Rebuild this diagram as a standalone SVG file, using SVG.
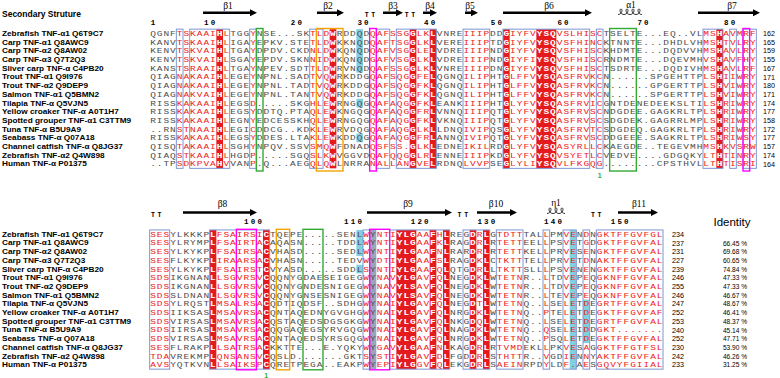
<svg xmlns="http://www.w3.org/2000/svg" width="780" height="378" viewBox="0 0 780 378">
<style>
.nm{font-family:"Liberation Sans",Arial,sans-serif;font-weight:bold;font-size:7.5px;fill:#000}
.s{font-family:"Liberation Mono",monospace;font-size:7.6px;letter-spacing:0.7726px;fill:#4d4d4d}
.r{fill:#ee1c1c}
.w{fill:#fff;font-weight:bold}
.num{font-family:"Liberation Sans",Arial,sans-serif;font-size:7.2px;fill:#000}
.pc{font-family:"Liberation Sans",Arial,sans-serif;font-size:6.6px;fill:#000;text-anchor:middle}
.rul{font-family:"Liberation Mono",monospace;font-size:7.5px;font-weight:bold;letter-spacing:2.167px;fill:#000}
.tt{font-family:"Liberation Mono",monospace;font-size:6.5px;font-weight:bold;letter-spacing:2.767px;fill:#000}
.lab{font-family:"Liberation Serif","Times New Roman",serif;font-size:9.5px;fill:#000;text-anchor:middle}
.fr{fill:none;stroke:#7d97d4;stroke-width:1}
.red{fill:#e41a1c}
.cy{fill:#80d0e2}
.sl{fill:#9aa4bc}
.mg{fill:none;stroke:#ff00ff;stroke-width:1.4}
.or{fill:none;stroke:#f5a300;stroke-width:1.4}
.gr{fill:none;stroke:#33aa33;stroke-width:1.4}
.arr{fill:#000}
.hx{fill:none;stroke:#000;stroke-width:0.8}
.one{font-family:"Liberation Sans",Arial,sans-serif;font-weight:bold;font-size:7px;fill:#33aa33;text-anchor:middle}
</style>
<rect width="780" height="378" fill="#fff"/>
<text x="2" y="16.5" font-family="Liberation Sans, Arial, sans-serif" font-weight="bold" font-size="8.5">Secondary Struture</text>

<g id="top-bg">
<rect class="red" x="216.34" y="29.15" width="6.67" height="139.2"/>
<rect class="red" x="329.67" y="29.15" width="6.67" height="139.2"/>
<rect class="red" x="409.67" y="29.15" width="6.67" height="139.2"/>
<rect class="red" x="429.67" y="29.15" width="6.67" height="139.2"/>
<rect class="red" x="503" y="29.15" width="6.67" height="139.2"/>
<rect class="red" x="536.34" y="29.15" width="20" height="139.2"/>
<rect class="red" x="716.34" y="29.15" width="6.67" height="139.2"/>
<rect class="cy" x="356.34" y="29.15" width="6.67" height="43.5"/>
<rect class="cy" x="356.34" y="98.75" width="6.67" height="8.7"/>
<rect class="cy" x="356.34" y="133.55" width="6.67" height="8.7"/>
</g>
<g id="top-frames">
<rect class="fr" x="176.34" y="29.15" width="6.67" height="139.2"/>
<rect class="fr" x="189.67" y="29.15" width="40" height="139.2"/>
<rect class="fr" x="249.67" y="29.15" width="6.67" height="139.2"/>
<rect class="fr" x="309.67" y="29.15" width="13.33" height="139.2"/>
<rect class="fr" x="376.34" y="29.15" width="13.33" height="139.2"/>
<rect class="fr" x="396.34" y="29.15" width="40" height="139.2"/>
<rect class="fr" x="463" y="29.15" width="26.67" height="139.2"/>
<rect class="fr" x="503" y="29.15" width="86.67" height="139.2"/>
<rect class="fr" x="596.34" y="29.15" width="6.67" height="139.2"/>
<rect class="fr" x="703" y="29.15" width="20" height="139.2"/>
<rect class="fr" x="729.67" y="29.15" width="6.67" height="139.2"/>
<rect class="fr" x="743" y="29.15" width="13.33" height="139.2"/>
<rect class="gr" x="256.34" y="28.5" width="6.67" height="142.5"/>
<rect class="or" x="316.34" y="28.5" width="26.67" height="142.5"/>
<rect class="mg" x="369.67" y="28.5" width="6.67" height="142.5"/>
<rect class="gr" x="609.67" y="28.5" width="26.67" height="142.5"/>
<rect class="mg" x="743" y="28.5" width="6.67" height="142.5"/>
</g>

<g id="top-ss">
<text class="lab" x="228" y="8.5">β1</text>
<path class="arr" d="M203 11.5H250V9.2L257 12.7L250 16.2V13.9H203Z"/>
<text class="lab" x="328" y="8.5">β2</text>
<path class="arr" d="M317 11.5H337V9.2L344 12.7L337 16.2V13.9H317Z"/>
<text class="tt" x="364.7" y="16.5">TT</text>
<text class="lab" x="393" y="8.5">β3</text>
<path class="arr" d="M383 11.5H396V9.2L403 12.7L396 16.2V13.9H383Z"/>
<text class="tt" x="404.7" y="16.5">TT</text>
<text class="lab" x="430" y="8.5">β4</text>
<path class="arr" d="M423 11.5H430V9.2L437 12.7L430 16.2V13.9H423Z"/>
<text class="lab" x="470" y="8.5">β5</text>
<path class="arr" d="M465 11.5H471V9.2L478 12.7L471 16.2V13.9H465Z"/>
<text class="lab" x="549" y="8.5">β6</text>
<path class="arr" d="M503 11.5H585V9.2L592 12.7L585 16.2V13.9H503Z"/>
<text class="lab" x="631" y="8">α1</text>
<path class="hx" d="M618 14.5C622 14.5 623 9 621 9C619 9 620 14.5 624 14.5C628 14.5 629 9 627 9C625 9 626 14.5 630 14.5C634 14.5 635 9 633 9C631 9 632 14.5 636 14.5C640 14.5 641 9 639 9C637 9 638 14.5 642 14.5"/>
<text class="lab" x="732" y="8.5">β7</text>
<path class="arr" d="M698 11.5H753V9.2L760 12.7L753 16.2V13.9H698Z"/>
</g>
<g id="top-ruler">
<text class="rul" x="150.75" y="25">1</text>
<text class="rul" x="204.1" y="25">10</text>
<text class="rul" x="290.75" y="25">20</text>
<text class="rul" x="357.4" y="25">30</text>
<text class="rul" x="424.1" y="25">40</text>
<text class="rul" x="490.75" y="25">50</text>
<text class="rul" x="557.4" y="25">60</text>
<text class="rul" x="637.4" y="25">70</text>
<text class="rul" x="724.1" y="25">80</text>
</g>

<g id="top-names" transform="scale(1.1,1)">
<text class="nm" x="1.82" y="36">Zebrafish TNF-α1 Q6T9C7</text>
<text class="nm" x="1.82" y="44.7">Carp TNF-α1 Q8AWC9</text>
<text class="nm" x="1.82" y="53.4">Carp TNF-α2 Q8AW02</text>
<text class="nm" x="1.82" y="62.1">Carp TNF-α3 Q7T2Q3</text>
<text class="nm" x="1.82" y="70.8">Sliver carp TNF-α C4PB20</text>
<text class="nm" x="1.82" y="79.5">Trout TNF-α1 Q9I976</text>
<text class="nm" x="1.82" y="88.2">Trout TNF-α2 Q9DEP9</text>
<text class="nm" x="1.82" y="96.9">Salmon TNF-α1 Q5BMN2</text>
<text class="nm" x="1.82" y="105.6">Tilapia TNF-α Q5VJN5</text>
<text class="nm" x="1.82" y="114.3">Yellow croaker TNF-α A0T1H7</text>
<text class="nm" x="1.82" y="123">Spotted grouper TNF-α1 C3TTM9</text>
<text class="nm" x="1.82" y="131.7">Tuna TNF-α B5U9A9</text>
<text class="nm" x="1.82" y="140.4">Seabass TNF-α Q07A18</text>
<text class="nm" x="1.82" y="149.1">Channel catfish TNF-α Q8JG37</text>
<text class="nm" x="1.82" y="157.8">Zebrafish TNF-α2 Q4W898</text>
<text class="nm" x="1.82" y="166.5">Human TNF-α P01375</text>
</g>

<g id="top-seq" transform="scale(1.25,1)">
<text class="s" x="120.12" y="36">QGNF<tspan class="r">TSKAAI</tspan><tspan class="w">H</tspan><tspan class="r">L</tspan>TGG<tspan class="r">Y</tspan>NSE...SK<tspan class="r">TLD</tspan><tspan class="w">W</tspan>RDDQD<tspan class="r">QAFSSG</tspan><tspan class="w">G</tspan><tspan class="r">LK</tspan><tspan class="w">L</tspan>VNRE<tspan class="r">IIIP</tspan>DD<tspan class="w">G</tspan><tspan class="r">IYFV</tspan><tspan class="w">YSQ</tspan><tspan class="r">VSLHISC</tspan>TSELTE...EQ..VL<tspan class="r">MS</tspan><tspan class="w">H</tspan><tspan class="r">AVMRF</tspan></text>
<text class="s" x="120.12" y="44.7">KANV<tspan class="r">TSKAAI</tspan><tspan class="w">H</tspan><tspan class="r">L</tspan>IGA<tspan class="r">Y</tspan>EPKV.STE<tspan class="r">TLD</tspan><tspan class="w">W</tspan>KKNQD<tspan class="r">QAFTSG</tspan><tspan class="w">G</tspan><tspan class="r">LK</tspan><tspan class="w">L</tspan>VERE<tspan class="r">IIIP</tspan>TD<tspan class="w">G</tspan><tspan class="r">IYFV</tspan><tspan class="w">YSQ</tspan><tspan class="r">VSFHINC</tspan>KTNNTE...DHDLVH<tspan class="r">MS</tspan><tspan class="w">H</tspan><tspan class="r">TVLRY</tspan></text>
<text class="s" x="120.12" y="53.4">KENV<tspan class="r">TSKVAI</tspan><tspan class="w">H</tspan><tspan class="r">L</tspan>TGA<tspan class="r">Y</tspan>DPDV.CKD<tspan class="r">NLD</tspan><tspan class="w">W</tspan>KQNQD<tspan class="r">QAFVSG</tspan><tspan class="w">G</tspan><tspan class="r">LE</tspan><tspan class="w">L</tspan>VDRE<tspan class="r">IIIP</tspan>ND<tspan class="w">G</tspan><tspan class="r">IYFV</tspan><tspan class="w">YSQ</tspan><tspan class="r">VSFHISC</tspan>KHDMTE...DQDVVH<tspan class="r">MS</tspan><tspan class="w">H</tspan><tspan class="r">AVLRY</tspan></text>
<text class="s" x="120.12" y="62.1">KENV<tspan class="r">TSKVAI</tspan><tspan class="w">H</tspan><tspan class="r">L</tspan>SGA<tspan class="r">Y</tspan>EPDV.SKN<tspan class="r">NID</tspan><tspan class="w">W</tspan>KQNQD<tspan class="r">GAFVSG</tspan><tspan class="w">G</tspan><tspan class="r">LK</tspan><tspan class="w">L</tspan>VDRE<tspan class="r">IIIP</tspan>ND<tspan class="w">G</tspan><tspan class="r">IYFI</tspan><tspan class="w">YSQ</tspan><tspan class="r">VSFHISC</tspan>RNDMTE...DQEVMH<tspan class="r">VS</tspan><tspan class="w">H</tspan><tspan class="r">AVFHY</tspan></text>
<text class="s" x="120.12" y="70.8">KANS<tspan class="r">TSRAAI</tspan><tspan class="w">H</tspan><tspan class="r">L</tspan>TGA<tspan class="r">Y</tspan>NPEV.SDT<tspan class="r">TLD</tspan><tspan class="w">W</tspan>RVNQD<tspan class="r">QAFSSG</tspan><tspan class="w">G</tspan><tspan class="r">LK</tspan><tspan class="w">L</tspan>VNRE<tspan class="r">IIIP</tspan>DN<tspan class="w">G</tspan><tspan class="r">IYFV</tspan><tspan class="w">YSQ</tspan><tspan class="r">VSFHISC</tspan>TSDRTE...DQDIVH<tspan class="r">MS</tspan><tspan class="w">H</tspan><tspan class="r">AVLRF</tspan></text>
<text class="s" x="120.12" y="79.5">QIAG<tspan class="r">NAKAAI</tspan><tspan class="w">H</tspan><tspan class="r">L</tspan>EGE<tspan class="r">Y</tspan>NPNL.SAD<tspan class="r">TVQ</tspan><tspan class="w">W</tspan>RKDDG<tspan class="r">QAFSQG</tspan><tspan class="w">G</tspan><tspan class="r">FE</tspan><tspan class="w">L</tspan>QGNQ<tspan class="r">ILIP</tspan>HT<tspan class="w">G</tspan><tspan class="r">LFFV</tspan><tspan class="w">YSQ</tspan><tspan class="r">ASFRVKC</tspan>N......SPGEHTTP<tspan class="r">LS</tspan><tspan class="w">H</tspan><tspan class="r">IIWRY</tspan></text>
<text class="s" x="120.12" y="88.2">QIAG<tspan class="r">NAKAAI</tspan><tspan class="w">H</tspan><tspan class="r">L</tspan>EGE<tspan class="r">Y</tspan>NPNL.TAD<tspan class="r">TVQ</tspan><tspan class="w">W</tspan>RKDDG<tspan class="r">QAFSQG</tspan><tspan class="w">G</tspan><tspan class="r">FK</tspan><tspan class="w">L</tspan>QGNQ<tspan class="r">ILIP</tspan>HT<tspan class="w">G</tspan><tspan class="r">LFFV</tspan><tspan class="w">YSQ</tspan><tspan class="r">ASFRVKC</tspan>N......GPGERTTP<tspan class="r">LS</tspan><tspan class="w">H</tspan><tspan class="r">VIWRY</tspan></text>
<text class="s" x="120.12" y="96.9">QIAG<tspan class="r">NAKVAI</tspan><tspan class="w">H</tspan><tspan class="r">L</tspan>EGE<tspan class="r">Y</tspan>NPNL.TAN<tspan class="r">TVQ</tspan><tspan class="w">W</tspan>RKDDG<tspan class="r">QAFSQG</tspan><tspan class="w">G</tspan><tspan class="r">FK</tspan><tspan class="w">L</tspan>QGNQ<tspan class="r">ILIP</tspan>HT<tspan class="w">G</tspan><tspan class="r">LFFV</tspan><tspan class="w">YSQ</tspan><tspan class="r">ASFRVKC</tspan>N......SPGERTTP<tspan class="r">LS</tspan><tspan class="w">H</tspan><tspan class="r">VIWRY</tspan></text>
<text class="s" x="120.12" y="105.6">RISS<tspan class="r">KAKAAI</tspan><tspan class="w">H</tspan><tspan class="r">L</tspan>EGS<tspan class="r">D</tspan>.....SKG<tspan class="r">HLE</tspan><tspan class="w">W</tspan>RNGQG<tspan class="r">QAFAQG</tspan><tspan class="w">G</tspan><tspan class="r">FK</tspan><tspan class="w">L</tspan>EANK<tspan class="r">IIIP</tspan>HT<tspan class="w">G</tspan><tspan class="r">LYFV</tspan><tspan class="w">YSQ</tspan><tspan class="r">ASFRVIC</tspan>GNTDENEDEEKSLTI<tspan class="r">LS</tspan><tspan class="w">H</tspan><tspan class="r">RIWRY</tspan></text>
<text class="s" x="120.12" y="114.3">RISS<tspan class="r">KAKAAI</tspan><tspan class="w">H</tspan><tspan class="r">L</tspan>EGS<tspan class="r">Y</tspan>DDTQ.PTA<tspan class="r">QLE</tspan><tspan class="w">W</tspan>KNGQG<tspan class="r">QAFAQG</tspan><tspan class="w">G</tspan><tspan class="r">FR</tspan><tspan class="w">L</tspan>VNNQ<tspan class="r">IIIP</tspan>QT<tspan class="w">G</tspan><tspan class="r">LYFV</tspan><tspan class="w">YSQ</tspan><tspan class="r">ASFRVSC</tspan>NDGDEE.GAGKRLTP<tspan class="r">LS</tspan><tspan class="w">H</tspan><tspan class="r">RIWRY</tspan></text>
<text class="s" x="120.12" y="123">RISS<tspan class="r">KAKAAI</tspan><tspan class="w">H</tspan><tspan class="r">L</tspan>EGN<tspan class="r">Y</tspan>EDCESSKH<tspan class="r">QLE</tspan><tspan class="w">W</tspan>RNGQG<tspan class="r">QAFAQG</tspan><tspan class="w">G</tspan><tspan class="r">FK</tspan><tspan class="w">L</tspan>VKNQ<tspan class="r">IIIP</tspan>QT<tspan class="w">G</tspan><tspan class="r">LYFV</tspan><tspan class="w">YSQ</tspan><tspan class="r">ASFRVSC</tspan>SDGDEK.GAGRRLMP<tspan class="r">LS</tspan><tspan class="w">H</tspan><tspan class="r">RIWRY</tspan></text>
<text class="s" x="120.12" y="131.7">..RN<tspan class="r">STNAAI</tspan><tspan class="w">H</tspan><tspan class="r">L</tspan>EGI<tspan class="r">C</tspan>DDCG..KD<tspan class="r">KLE</tspan><tspan class="w">W</tspan>RVDQG<tspan class="r">QAFAQG</tspan><tspan class="w">G</tspan><tspan class="r">LK</tspan><tspan class="w">L</tspan>LDNQ<tspan class="r">IVIP</tspan>QS<tspan class="w">G</tspan><tspan class="r">LYFV</tspan><tspan class="w">YSQ</tspan><tspan class="r">ASFRVTC</tspan>SDGDEQ.GAGKRLTP<tspan class="r">LS</tspan><tspan class="w">H</tspan><tspan class="r">RIWRY</tspan></text>
<text class="s" x="120.12" y="140.4">RISS<tspan class="r">KAKAAI</tspan><tspan class="w">H</tspan><tspan class="r">L</tspan>EGS<tspan class="r">Y</tspan>DDES.LTA<tspan class="r">KLE</tspan><tspan class="w">W</tspan>KDDQG<tspan class="r">QAFAQG</tspan><tspan class="w">G</tspan><tspan class="r">FR</tspan><tspan class="w">L</tspan>ANNQ<tspan class="r">IVIP</tspan>QT<tspan class="w">G</tspan><tspan class="r">LYFV</tspan><tspan class="w">YSQ</tspan><tspan class="r">ASFRVSC</tspan>DDGEEE.SAGKRLTP<tspan class="r">LS</tspan><tspan class="w">H</tspan><tspan class="r">RIWSY</tspan></text>
<text class="s" x="120.12" y="149.1">QISQ<tspan class="r">TAKAAI</tspan><tspan class="w">H</tspan><tspan class="r">L</tspan>SGH<tspan class="r">Y</tspan>NPQV.SSV<tspan class="r">SMQ</tspan><tspan class="w">W</tspan>FDNAD<tspan class="r">QSFSS.</tspan><tspan class="w">G</tspan><tspan class="r">LK</tspan><tspan class="w">L</tspan>EDNE<tspan class="r">IKIL</tspan>RD<tspan class="w">G</tspan><tspan class="r">LYFV</tspan><tspan class="w">YSQ</tspan><tspan class="r">ASYRLLC</tspan>KAEGDE..TEGEVMH<tspan class="r">MS</tspan><tspan class="w">H</tspan><tspan class="r">KVSRW</tspan></text>
<text class="s" x="120.12" y="157.8">QIAQ<tspan class="r">STKAAI</tspan><tspan class="w">H</tspan><tspan class="r">L</tspan>HGD<tspan class="r">P</tspan>.....SGQ<tspan class="r">SLK</tspan><tspan class="w">W</tspan>VGGVD<tspan class="r">QAFQQG</tspan><tspan class="w">G</tspan><tspan class="r">LR</tspan><tspan class="w">L</tspan>ENNE<tspan class="r">IIIP</tspan>KD<tspan class="w">G</tspan><tspan class="r">LYFV</tspan><tspan class="w">YSQ</tspan><tspan class="r">VSYETLC</tspan>VEDVE....GDGQKY<tspan class="r">LT</tspan><tspan class="w">H</tspan><tspan class="r">TINRY</tspan></text>
<text class="s" x="120.12" y="166.5">..TP<tspan class="r">SDKPVA</tspan><tspan class="w">H</tspan><tspan class="r">V</tspan>VAN<tspan class="r">P</tspan>.Q...AEG<tspan class="r">QLQ</tspan><tspan class="w">W</tspan>LNRRA<tspan class="r">NALLAN</tspan><tspan class="w">G</tspan><tspan class="r">VE</tspan><tspan class="w">L</tspan>RDNQ<tspan class="r">LVVP</tspan>SE<tspan class="w">G</tspan><tspan class="r">LYLI</tspan><tspan class="w">YSQ</tspan><tspan class="r">VLFKGQG</tspan>........CPSTHVL<tspan class="r">LT</tspan><tspan class="w">H</tspan><tspan class="r">TISRI</tspan></text>
</g>
<g id="top-numbers">
<text class="num" x="763" y="36">162</text>
<text class="num" x="763" y="44.7">165</text>
<text class="num" x="763" y="53.4">159</text>
<text class="num" x="763" y="62.1">155</text>
<text class="num" x="763" y="70.8">167</text>
<text class="num" x="763" y="79.5">171</text>
<text class="num" x="763" y="88.2">180</text>
<text class="num" x="763" y="96.9">171</text>
<text class="num" x="763" y="105.6">174</text>
<text class="num" x="763" y="114.3">177</text>
<text class="num" x="763" y="123">158</text>
<text class="num" x="763" y="131.7">172</text>
<text class="num" x="763" y="140.4">177</text>
<text class="num" x="763" y="149.1">157</text>
<text class="num" x="763" y="157.8">174</text>
<text class="num" x="763" y="166.5">164</text>
</g>
<text class="one" x="599.7" y="177.5">1</text>

<g id="bot-bg">
<rect class="red" x="209.67" y="229.95" width="6.67" height="139.2"/>
<rect class="red" x="263" y="229.95" width="6.67" height="139.2"/>
<rect class="red" x="396.34" y="229.95" width="20" height="139.2"/>
<rect class="red" x="429.67" y="229.95" width="6.67" height="139.2"/>
<rect class="red" x="443" y="229.95" width="6.67" height="139.2"/>
<rect class="red" x="469.67" y="229.95" width="6.67" height="139.2"/>
<rect class="red" x="483" y="229.95" width="6.67" height="139.2"/>
<rect class="cy" x="356.34" y="229.95" width="6.67" height="26.1"/>
<rect class="cy" x="356.34" y="264.75" width="6.67" height="8.7"/>
<rect class="sl" x="369.67" y="229.95" width="6.67" height="139.2"/>
<rect class="cy" x="569.67" y="229.95" width="6.67" height="139.2"/>
<rect class="cy" x="583" y="299.55" width="6.67" height="43.5"/>
</g>
<g id="bot-frames">
<rect class="fr" x="149.67" y="229.95" width="20" height="139.2"/>
<rect class="fr" x="209.67" y="229.95" width="60" height="139.2"/>
<rect class="fr" x="363" y="229.95" width="6.67" height="139.2"/>
<rect class="fr" x="389.67" y="229.95" width="60" height="139.2"/>
<rect class="fr" x="463" y="229.95" width="26.67" height="139.2"/>
<rect class="fr" x="496.34" y="229.95" width="26.67" height="139.2"/>
<rect class="fr" x="543" y="229.95" width="6.67" height="139.2"/>
<rect class="fr" x="563" y="229.95" width="13.33" height="139.2"/>
<rect class="fr" x="583" y="229.95" width="6.67" height="139.2"/>
<rect class="fr" x="596.34" y="229.95" width="66.67" height="139.2"/>
<rect class="mg" x="236.34" y="229.3" width="20" height="140.5"/>
<rect class="or" x="276.34" y="229.3" width="13.33" height="140.5"/>
<rect class="gr" x="303" y="229.3" width="20" height="140.5"/>
<rect class="mg" x="369.67" y="229.3" width="20" height="140.5"/>
</g>
<g id="bot-ss">
<text class="tt" x="150.9" y="216.5">TT</text>
<text class="lab" x="222.5" y="206.5">β8</text>
<path class="arr" d="M183 211.3H250V209L257 212.5L250 216V213.7H183Z"/>
<text class="lab" x="408" y="206.5">β9</text>
<path class="arr" d="M367 211.3H445V209L452 212.5L445 216V213.7H367Z"/>
<text class="tt" x="457.6" y="216.5">TT</text>
<text class="lab" x="496" y="206.5">β10</text>
<path class="arr" d="M477 211.3H510V209L517 212.5L510 216V213.7H477Z"/>
<text class="lab" x="556" y="206">η1</text>
<path class="hx" d="M547 213.5C551 213.5 552 208 550 208C548 208 549 213.5 553 213.5C557 213.5 558 208 556 208C554 208 555 213.5 559 213.5C563 213.5 564 208 562 208C560 208 561 213.5 565 213.5"/>
<text class="tt" x="590.9" y="216.5">TT</text>
<text class="lab" x="639" y="206.5">β11</text>
<path class="arr" d="M618 211.3H651V209L658 212.5L651 216V213.7H618Z"/>
<text x="732" y="226" font-family="Liberation Sans, Arial, sans-serif" font-size="11.5" text-anchor="middle">Identity</text>
</g>
<g id="bot-ruler">
<text class="rul" x="244.1" y="224">100</text>
<text class="rul" x="344.1" y="224">110</text>
<text class="rul" x="410.75" y="224">120</text>
<text class="rul" x="477.4" y="224">130</text>
<text class="rul" x="544.1" y="224">140</text>
<text class="rul" x="610.75" y="224">150</text>
</g>
<g id="bot-names" transform="scale(1.1,1)">
<text class="nm" x="1.82" y="236.8">Zebrafish TNF-α1 Q6T9C7</text>
<text class="nm" x="1.82" y="245.5">Carp TNF-α1 Q8AWC9</text>
<text class="nm" x="1.82" y="254.2">Carp TNF-α2 Q8AW02</text>
<text class="nm" x="1.82" y="262.9">Carp TNF-α3 Q7T2Q3</text>
<text class="nm" x="1.82" y="271.6">Sliver carp TNF-α C4PB20</text>
<text class="nm" x="1.82" y="280.3">Trout TNF-α1 Q9I976</text>
<text class="nm" x="1.82" y="289">Trout TNF-α2 Q9DEP9</text>
<text class="nm" x="1.82" y="297.7">Salmon TNF-α1 Q5BMN2</text>
<text class="nm" x="1.82" y="306.4">Tilapia TNF-α Q5VJN5</text>
<text class="nm" x="1.82" y="315.1">Yellow croaker TNF-α A0T1H7</text>
<text class="nm" x="1.82" y="323.8">Spotted grouper TNF-α1 C3TTM9</text>
<text class="nm" x="1.82" y="332.5">Tuna TNF-α B5U9A9</text>
<text class="nm" x="1.82" y="341.2">Seabass TNF-α Q07A18</text>
<text class="nm" x="1.82" y="349.9">Channel catfish TNF-α Q8JG37</text>
<text class="nm" x="1.82" y="358.6">Zebrafish TNF-α2 Q4W898</text>
<text class="nm" x="1.82" y="367.3">Human TNF-α P01375</text>
</g>
<g id="bot-seq" transform="scale(1.25,1)">
<text class="s" x="120.12" y="236.8"><tspan class="r">SES</tspan>YLKKKP<tspan class="w">L</tspan><tspan class="r">FSAIRSI</tspan><tspan class="w">C</tspan>TQEPE.....SENL<tspan class="r">W</tspan>Y<tspan class="r">NTI</tspan><tspan class="w">YLG</tspan><tspan class="r">AA</tspan><tspan class="w">F</tspan><tspan class="r">H</tspan><tspan class="w">L</tspan>REG<tspan class="w">D</tspan><tspan class="r">R</tspan><tspan class="w">L</tspan>G<tspan class="r">TDTT</tspan>TAL<tspan class="r">L</tspan>PM<tspan class="r">VE</tspan>N<tspan class="r">D</tspan>N<tspan class="r">GKTFFGVFGL</tspan></text>
<text class="s" x="120.12" y="245.5"><tspan class="r">SES</tspan>YLRYMP<tspan class="w">L</tspan><tspan class="r">FSAIRTA</tspan><tspan class="w">C</tspan>AQASN.....TDDL<tspan class="r">W</tspan>Y<tspan class="r">NTI</tspan><tspan class="w">YLG</tspan><tspan class="r">AA</tspan><tspan class="w">F</tspan><tspan class="r">K</tspan><tspan class="w">L</tspan>RAG<tspan class="w">D</tspan><tspan class="r">R</tspan><tspan class="w">L</tspan>R<tspan class="r">TETT</tspan>EEL<tspan class="r">L</tspan>PS<tspan class="r">VE</tspan>T<tspan class="r">G</tspan>D<tspan class="r">GKTFFGVFAL</tspan></text>
<text class="s" x="120.12" y="254.2"><tspan class="r">SES</tspan>YLKYKP<tspan class="w">L</tspan><tspan class="r">FSAIRSA</tspan><tspan class="w">C</tspan>VHASD.....SEDL<tspan class="r">W</tspan>Y<tspan class="r">NTI</tspan><tspan class="w">YLG</tspan><tspan class="r">AA</tspan><tspan class="w">F</tspan><tspan class="r">N</tspan><tspan class="w">L</tspan>RAR<tspan class="w">D</tspan><tspan class="r">R</tspan><tspan class="w">L</tspan>R<tspan class="r">TETT</tspan>KEL<tspan class="r">L</tspan>PR<tspan class="r">VE</tspan>S<tspan class="r">E</tspan>N<tspan class="r">GKTFFGVFAL</tspan></text>
<text class="s" x="120.12" y="262.9"><tspan class="r">SES</tspan>FLKYKP<tspan class="w">L</tspan><tspan class="r">IRAARSA</tspan><tspan class="w">C</tspan>VHASN.....TEDV<tspan class="r">W</tspan>Y<tspan class="r">DTI</tspan><tspan class="w">YLG</tspan><tspan class="r">AA</tspan><tspan class="w">F</tspan><tspan class="r">S</tspan><tspan class="w">L</tspan>RAG<tspan class="w">D</tspan><tspan class="r">K</tspan><tspan class="w">L</tspan>C<tspan class="r">TKTT</tspan>TEL<tspan class="r">L</tspan>PR<tspan class="r">VE</tspan>T<tspan class="r">D</tspan>N<tspan class="r">AKTFFGVFAL</tspan></text>
<text class="s" x="120.12" y="271.6"><tspan class="r">SES</tspan>YLKYKP<tspan class="w">L</tspan><tspan class="r">FSAIRST</tspan><tspan class="w">C</tspan>VYASD.....SDDL<tspan class="r">S</tspan>Y<tspan class="r">NTI</tspan><tspan class="w">YLG</tspan><tspan class="r">AA</tspan><tspan class="w">F</tspan><tspan class="r">Q</tspan><tspan class="w">L</tspan>QTG<tspan class="w">D</tspan><tspan class="r">R</tspan><tspan class="w">L</tspan>L<tspan class="r">TKTT</tspan>SLL<tspan class="r">L</tspan>PS<tspan class="r">VE</tspan>N<tspan class="r">E</tspan>N<tspan class="r">GKTFFGVFAL</tspan></text>
<text class="s" x="120.12" y="280.3"><tspan class="r">SDS</tspan>IKGNAN<tspan class="w">L</tspan><tspan class="r">LSGVRSV</tspan><tspan class="w">C</tspan>QQNYGDAESEIGEG<tspan class="r">W</tspan>Y<tspan class="r">NAV</tspan><tspan class="w">YLG</tspan><tspan class="r">AV</tspan><tspan class="w">F</tspan><tspan class="r">Q</tspan><tspan class="w">L</tspan>NEG<tspan class="w">D</tspan><tspan class="r">K</tspan><tspan class="w">L</tspan>W<tspan class="r">TETN</tspan>R..<tspan class="r">L</tspan>TD<tspan class="r">VE</tspan>P<tspan class="r">E</tspan>Q<tspan class="r">GKNFFGVFAL</tspan></text>
<text class="s" x="120.12" y="289"><tspan class="r">SDS</tspan>IKGNAN<tspan class="w">L</tspan><tspan class="r">LSGVRSV</tspan><tspan class="w">C</tspan>QQNYGNDESNIGEG<tspan class="r">W</tspan>Y<tspan class="r">NAV</tspan><tspan class="w">YLS</tspan><tspan class="r">AV</tspan><tspan class="w">F</tspan><tspan class="r">Q</tspan><tspan class="w">L</tspan>NEG<tspan class="w">D</tspan><tspan class="r">K</tspan><tspan class="w">L</tspan>W<tspan class="r">TETN</tspan>R..<tspan class="r">L</tspan>TD<tspan class="r">VE</tspan>P<tspan class="r">E</tspan>Q<tspan class="r">GKNFFGVFAL</tspan></text>
<text class="s" x="120.12" y="297.7"><tspan class="r">SDS</tspan>SLDNAN<tspan class="w">L</tspan><tspan class="r">LSGVRSV</tspan><tspan class="w">C</tspan>QQNYGNSESNIGEG<tspan class="r">W</tspan>Y<tspan class="r">NAV</tspan><tspan class="w">YLS</tspan><tspan class="r">AV</tspan><tspan class="w">F</tspan><tspan class="r">Q</tspan><tspan class="w">L</tspan>NEG<tspan class="w">D</tspan><tspan class="r">K</tspan><tspan class="w">L</tspan>W<tspan class="r">TETN</tspan>R..<tspan class="r">L</tspan>TE<tspan class="r">VE</tspan>P<tspan class="r">E</tspan>Q<tspan class="r">GKNFFGVFAL</tspan></text>
<text class="s" x="120.12" y="306.4"><tspan class="r">SDS</tspan>YLRQST<tspan class="w">L</tspan><tspan class="r">MSALRSA</tspan><tspan class="w">C</tspan>QDTIQDSF..SDHG<tspan class="r">W</tspan>Y<tspan class="r">NAI</tspan><tspan class="w">YLG</tspan><tspan class="r">AV</tspan><tspan class="w">F</tspan><tspan class="r">Q</tspan><tspan class="w">L</tspan>NEG<tspan class="w">D</tspan><tspan class="r">T</tspan><tspan class="w">L</tspan>W<tspan class="r">TETN</tspan>Q..<tspan class="r">L</tspan>SE<tspan class="r">LE</tspan>T<tspan class="r">D</tspan>E<tspan class="r">GRTFFGVFAL</tspan></text>
<text class="s" x="120.12" y="315.1"><tspan class="r">SDS</tspan>IIKSAS<tspan class="w">L</tspan><tspan class="r">MSAVRSA</tspan><tspan class="w">C</tspan>QNTAQEDNYGVGHG<tspan class="r">W</tspan>Y<tspan class="r">NAI</tspan><tspan class="w">YLG</tspan><tspan class="r">AV</tspan><tspan class="w">F</tspan><tspan class="r">Q</tspan><tspan class="w">L</tspan>NRG<tspan class="w">D</tspan><tspan class="r">K</tspan><tspan class="w">L</tspan>W<tspan class="r">TETN</tspan>Q..<tspan class="r">P</tspan>TE<tspan class="r">LE</tspan>T<tspan class="r">D</tspan>E<tspan class="r">GKTFFGVFAF</tspan></text>
<text class="s" x="120.12" y="323.8"><tspan class="r">SDS</tspan>VIRSAS<tspan class="w">L</tspan><tspan class="r">MSAVRSA</tspan><tspan class="w">C</tspan>QSTAQEDSDGSGKG<tspan class="r">W</tspan>Y<tspan class="r">NAI</tspan><tspan class="w">YLG</tspan><tspan class="r">AV</tspan><tspan class="w">F</tspan><tspan class="r">Q</tspan><tspan class="w">L</tspan>NKG<tspan class="w">D</tspan><tspan class="r">Q</tspan><tspan class="w">L</tspan>W<tspan class="r">TETN</tspan>Q..<tspan class="r">L</tspan>SE<tspan class="r">LE</tspan>T<tspan class="r">D</tspan>E<tspan class="r">GRTFFGVFAL</tspan></text>
<text class="s" x="120.12" y="332.5"><tspan class="r">SDS</tspan>IIRSAS<tspan class="w">L</tspan><tspan class="r">MSAVRSA</tspan><tspan class="w">C</tspan>QQGAQEGSYRVGQG<tspan class="r">W</tspan>Y<tspan class="r">NAI</tspan><tspan class="w">YLG</tspan><tspan class="r">AV</tspan><tspan class="w">F</tspan><tspan class="r">Q</tspan><tspan class="w">L</tspan>NAG<tspan class="w">D</tspan><tspan class="r">K</tspan><tspan class="w">L</tspan>W<tspan class="r">TETN</tspan>Q..<tspan class="r">Q</tspan>SE<tspan class="r">LE</tspan>I<tspan class="r">D</tspan>D<tspan class="r">GKT.......</tspan></text>
<text class="s" x="120.12" y="341.2"><tspan class="r">SDS</tspan>VIRSAS<tspan class="w">L</tspan><tspan class="r">MSAVRSA</tspan><tspan class="w">C</tspan>QNTAQEDSYRSGQG<tspan class="r">W</tspan>Y<tspan class="r">NAI</tspan><tspan class="w">YLG</tspan><tspan class="r">AV</tspan><tspan class="w">F</tspan><tspan class="r">Q</tspan><tspan class="w">L</tspan>NRG<tspan class="w">D</tspan><tspan class="r">K</tspan><tspan class="w">L</tspan>W<tspan class="r">TETN</tspan>Q..<tspan class="r">P</tspan>SQ<tspan class="r">LE</tspan>T<tspan class="r">D</tspan>E<tspan class="r">GKTFFGVFAL</tspan></text>
<text class="s" x="120.12" y="349.9"><tspan class="r">SES</tspan>FLRAKP<tspan class="w">L</tspan><tspan class="r">LSATRSA</tspan><tspan class="w">C</tspan>KKTTE...E.YQKY<tspan class="r">W</tspan>Y<tspan class="r">GAV</tspan><tspan class="w">YLG</tspan><tspan class="r">AA</tspan><tspan class="w">F</tspan><tspan class="r">N</tspan><tspan class="w">L</tspan>KAG<tspan class="w">D</tspan><tspan class="r">R</tspan><tspan class="w">L</tspan>R<tspan class="r">TVMD</tspan>EKL<tspan class="r">L</tspan>PK<tspan class="r">VE</tspan>S<tspan class="r">A</tspan>G<tspan class="r">GKTFFGTFSL</tspan></text>
<text class="s" x="120.12" y="358.6"><tspan class="r">TDA</tspan>VREKMP<tspan class="w">L</tspan><tspan class="r">QNSANSV</tspan><tspan class="w">C</tspan>QSLD.......GKT<tspan class="r">S</tspan>Y<tspan class="r">STI</tspan><tspan class="w">YLG</tspan><tspan class="r">AV</tspan><tspan class="w">F</tspan><tspan class="r">D</tspan><tspan class="w">L</tspan>FGD<tspan class="w">D</tspan><tspan class="r">R</tspan><tspan class="w">L</tspan>S<tspan class="r">THTT</tspan>R..<tspan class="r">V</tspan>GD<tspan class="r">IE</tspan>N<tspan class="r">N</tspan>Y<tspan class="r">AKTFFGVFAL</tspan></text>
<text class="s" x="120.12" y="367.3"><tspan class="r">AVS</tspan>YQTKVN<tspan class="w">L</tspan><tspan class="r">LSAIKSP</tspan><tspan class="w">C</tspan>QRETPEGA..EAKP<tspan class="r">W</tspan>Y<tspan class="r">EPI</tspan><tspan class="w">YLG</tspan><tspan class="r">GV</tspan><tspan class="w">F</tspan><tspan class="r">Q</tspan><tspan class="w">L</tspan>EKG<tspan class="w">D</tspan><tspan class="r">R</tspan><tspan class="w">L</tspan>S<tspan class="r">AEIN</tspan>RPD<tspan class="r">Y</tspan>LD<tspan class="r">F.</tspan>A<tspan class="r">E</tspan>S<tspan class="r">GQVYFGIIAL</tspan></text>
</g>
<g id="bot-numbers">
<text class="num" x="672" y="236.8">234</text>
<text class="num" x="672" y="245.5">237</text>
<text class="num" x="672" y="254.2">231</text>
<text class="num" x="672" y="262.9">227</text>
<text class="num" x="672" y="271.6">239</text>
<text class="num" x="672" y="280.3">246</text>
<text class="num" x="672" y="289">255</text>
<text class="num" x="672" y="297.7">246</text>
<text class="num" x="672" y="306.4">247</text>
<text class="num" x="672" y="315.1">252</text>
<text class="num" x="672" y="323.8">253</text>
<text class="num" x="672" y="332.5">240</text>
<text class="num" x="672" y="341.2">252</text>
<text class="num" x="672" y="349.9">230</text>
<text class="num" x="672" y="358.6">242</text>
<text class="num" x="672" y="367.3">233</text>
</g>
<g id="identity">
<text class="pc" x="735" y="245.5">66.45 %</text>
<text class="pc" x="735" y="254.2">69.68 %</text>
<text class="pc" x="735" y="262.9">60.65 %</text>
<text class="pc" x="735" y="271.6">74.84 %</text>
<text class="pc" x="735" y="280.3">47.33 %</text>
<text class="pc" x="735" y="289">47.33 %</text>
<text class="pc" x="735" y="297.7">46.67 %</text>
<text class="pc" x="735" y="306.4">48.67 %</text>
<text class="pc" x="735" y="315.1">46.41 %</text>
<text class="pc" x="735" y="323.8">48.37 %</text>
<text class="pc" x="735" y="332.5">45.14 %</text>
<text class="pc" x="735" y="341.2">47.71 %</text>
<text class="pc" x="735" y="349.9">53.90 %</text>
<text class="pc" x="735" y="358.6">46.26 %</text>
<text class="pc" x="735" y="367.3">31.25 %</text>
</g>
<text class="one" x="266.3" y="377.5">1</text>
</svg>
